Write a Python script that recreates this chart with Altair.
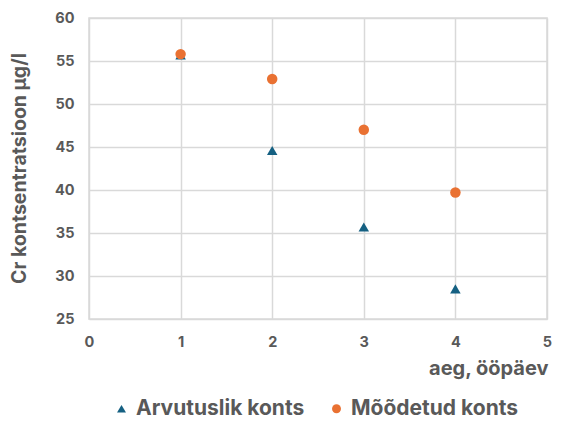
import altair as alt
import pandas as pd

days = [1, 2, 3, 4]
arvutuslik = [55.7, 44.6, 35.7, 28.5]
moodetud = [55.8, 52.9, 47.0, 39.7]
series = ["Arvutuslik konts", "Mõõdetud konts"]

rows = []
for i, (vals, name) in enumerate([(arvutuslik, series[0]), (moodetud, series[1])]):
    for d, v in zip(days, vals):
        rows.append({"aeg": d, "konts": v, "seeria": name, "ord": i})
df = pd.DataFrame(rows)

FONT = "Inter"
GRAY = "#595959"

chart = alt.Chart(df).mark_point(filled=True, opacity=1, size=110).encode(
    x=alt.X("aeg:Q", scale=alt.Scale(domain=[0, 5], nice=False),
            axis=alt.Axis(values=[0, 1, 2, 3, 4, 5], title="aeg, ööpäev",
                          titleAnchor="end", titleAlign="right", titleBaseline="alphabetic",
                          titleX=459, titleY=55, titleFontSize=20,
                          labelFlush=False, ticks=False,
                          labelPadding=16, domain=False)),
    y=alt.Y("konts:Q", scale=alt.Scale(domain=[25, 60], nice=False, zero=False),
            axis=alt.Axis(values=[25, 30, 35, 40, 45, 50, 55, 60],
                          title="Cr kontsentratsioon µg/l", titleX=-60, titleY=150,
                          titleFontSize=19.5,
                          ticks=False, labelPadding=15, domain=False)),
    color=alt.Color("seeria:N", scale=alt.Scale(domain=series, range=["#156082", "#E97132"]),
                    legend=alt.Legend(title=None, orient="none", direction="horizontal",
                                      legendX=22, legendY=380, symbolSize=80, labelLimit=400,
                                      labelFontSize=21, columnPadding=21, symbolOpacity=1)),
    shape=alt.Shape("seeria:N", scale=alt.Scale(domain=series, range=["triangle-up", "circle"])),
    order=alt.Order("ord:Q"),
).properties(width=458, height=301,
             autosize=alt.AutoSizeParams(type="none"),
             padding={"left": 89, "top": 18, "right": 14, "bottom": 104}
).configure_view(stroke="#D9D9D9", strokeWidth=1.5
).configure_axis(
    labelFont=FONT, titleFont=FONT, labelFontWeight="bold", titleFontWeight="bold",
    labelColor=GRAY, titleColor=GRAY, labelFontSize=14.5,
    gridColor="#D9D9D9", gridWidth=1.5, gridOpacity=1
).configure_legend(labelFont=FONT, labelFontWeight="bold", labelColor=GRAY)

chart.save("out.html", embed_options={"renderer": "svg", "actions": False})
